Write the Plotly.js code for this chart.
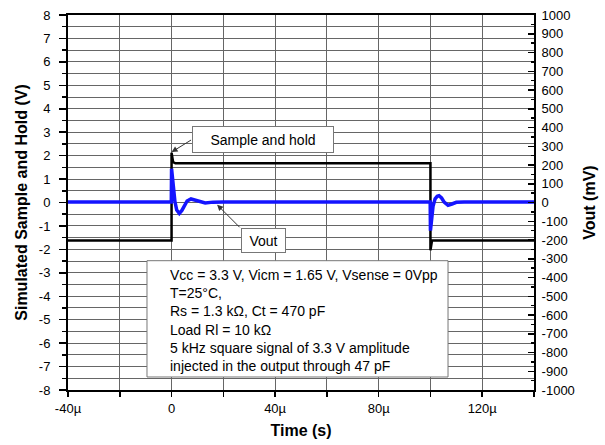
<!DOCTYPE html>
<html>
<head>
<meta charset="utf-8">
<script src="https://cdn.plot.ly/plotly-3.0.1.min.js"></script>
<style>html,body{margin:0;padding:0;background:#fff;}#chart{width:605px;height:445px;}</style>
</head>
<body>
<div id="chart"></div>
<script>
// ---- data (time in microseconds) ----
const shTimeUs = [-40, 0, 0, 0.6, 1.5, 100, 100, 100.6, 140];
const shVolts  = [-1.62, -1.62, 2.12, 1.72, 1.67, 1.67, -2.04, -1.62, -1.62];

const voutTimeUs = [-40, -30, -20, -10, -0.1, 0, 0.3, 0.8, 1.3, 2.0, 3.0, 4.0, 5.0, 6.0, 7.5, 9.0, 11, 13, 16, 20,
                    40, 60, 80, 99.9, 100, 100.4, 101, 101.8, 102.6, 103.3, 104.3, 105.3, 106.8, 108.3, 110, 113, 120, 140];
const voutMilliV = [3, 2, 3, 2, 3, 180, 130, 60, 5, -40, -58, -42, -12, 8, 19, 14, 4, -2, 2, 3,
                    3, 2, 3, 3, -150, -95, -20, 20, 33, 36, 24, 2, -15, -8, 1, 3, 2, 3];

const xTickVals = [-40, 0, 40, 80, 120];
const xTickText = ['-40µ', '0', '40µ', '80µ', '120µ'];

const yLeftTickVals = [-8, -7, -6, -5, -4, -3, -2, -1, 0, 1, 2, 3, 4, 5, 6, 7, 8];
const yLeftTickText = ['-8', '-7', '-6', '-5', '-4', '-3', '-2', '-1', '0', '1', '2', '3', '4', '5', '6', '7', '8'];

const yRightTickVals = [-1000, -900, -800, -700, -600, -500, -400, -300, -200, -100, 0,
                        100, 200, 300, 400, 500, 600, 700, 800, 900, 1000];
const yRightTickText = ['-1000', '-900', '-800', '-700', '-600', '-500', '-400', '-300', '-200', '-100', '0',
                        '100', '200', '300', '400', '500', '600', '700', '800', '900', '1000'];

const infoLines = [
  'Vcc = 3.3 V, Vicm = 1.65 V, Vsense = 0Vpp',
  'T=25°C,',
  'Rs = 1.3 kΩ, Ct = 470 pF',
  'Load Rl = 10 kΩ',
  '5 kHz square signal of 3.3 V amplitude',
  'injected in the output through 47 pF'
];

const us = v => v * 1e-6;

const traces = [
  {
    x: shTimeUs.map(us), y: shVolts, type: 'scatter', mode: 'lines',
    line: {color: '#000000', width: 2.5}, yaxis: 'y', hoverinfo: 'skip'
  },
  {
    x: voutTimeUs.map(us), y: voutMilliV, type: 'scatter', mode: 'lines',
    line: {color: '#1414ff', width: 3.5}, yaxis: 'y2', hoverinfo: 'skip'
  }
];

const fontFam = 'Liberation Sans, Arial, sans-serif';
const grid = '#666666';

const layout = {
  width: 605, height: 445,
  margin: {l: 68, r: 71, t: 15, b: 55},
  paper_bgcolor: '#ffffff', plot_bgcolor: '#ffffff',
  showlegend: false,
  font: {family: fontFam, size: 13, color: '#000'},
  xaxis: {
    range: [us(-40), us(140)],
    tickmode: 'array', tickvals: xTickVals.map(us), ticktext: xTickText,
    ticks: 'outside', ticklen: 5, tickwidth: 1.5, tickcolor: '#000',
    showgrid: true, gridcolor: grid, gridwidth: 1,
    minor: {tickmode: 'linear', tick0: 0, dtick: us(20), ticks: 'outside', ticklen: 5, tickwidth: 1.5, tickcolor: '#000', showgrid: true, gridcolor: grid, gridwidth: 1},
    zeroline: false,
    showline: true, linecolor: '#000', linewidth: 2, mirror: true,
    tickfont: {size: 13},
    title: {text: 'Time (s)', font: {size: 16, family: fontFam, weight: 'bold'}, standoff: 10}
  },
  yaxis: {
    range: [-8, 8],
    tickmode: 'array', tickvals: yLeftTickVals, ticktext: yLeftTickText,
    ticks: 'outside', ticklen: 7, tickwidth: 1.5, tickcolor: '#000',
    ticklabelstandoff: 6,
    showgrid: true, gridcolor: grid, gridwidth: 1,
    minor: {tickmode: 'linear', tick0: 0, dtick: 0.5, ticks: 'outside', ticklen: 4, tickwidth: 1.5, tickcolor: '#000', showgrid: true, gridcolor: grid, gridwidth: 1},
    zeroline: false,
    showline: true, linecolor: '#000', linewidth: 2,
    tickfont: {size: 13},
    title: {text: 'Simulated Sample and Hold (V)', font: {size: 16, family: fontFam, weight: 'bold'}, standoff: 7}
  },
  yaxis2: {
    overlaying: 'y', side: 'right',
    range: [-1000, 1000],
    tickmode: 'array', tickvals: yRightTickVals, ticktext: yRightTickText,
    ticks: 'inside', ticklen: 6, tickwidth: 1.5, tickcolor: '#000',
    ticklabelstandoff: 3,
    minor: {tickmode: 'linear', tick0: 0, dtick: 50, ticks: 'inside', ticklen: 3, tickwidth: 1.5, tickcolor: '#000', showgrid: false},
    showgrid: false, zeroline: false,
    showline: true, linecolor: '#000', linewidth: 2,
    tickfont: {size: 13},
    title: {text: 'Vout (mV)', font: {size: 16, family: fontFam, weight: 'bold'}, standoff: 10}
  },
  shapes: [
    {type: 'rect', xref: 'paper', yref: 'paper', x0: 0.1695, x1: 0.8155, y0: 0.0347, y1: 0.3448,
     fillcolor: '#ffffff', line: {color: '#777777', width: 1}, layer: 'above'}
  ],
  annotations: [
    // Sample and hold label + arrow
    {xref: 'paper', yref: 'paper', x: 0.4185, y: 0.7027, text: 'Sample and hold', showarrow: false,
     font: {size: 14, family: fontFam, color: '#000'}, bgcolor: '#ffffff', bordercolor: '#777777', borderwidth: 1,
     width: 138, height: 23, borderpad: 1},
    {xref: 'x', yref: 'y', x: us(0), y: 2.15, ax: 21, ay: -13, text: '', showarrow: true,
     arrowhead: 2, arrowsize: 1.2, arrowwidth: 1, arrowcolor: '#333'},
    // Vout label + arrow
    {xref: 'paper', yref: 'paper', x: 0.4185, y: 0.3987, text: 'Vout', showarrow: false,
     font: {size: 14, family: fontFam, color: '#000'}, bgcolor: '#ffffff', bordercolor: '#777777', borderwidth: 1,
     width: 41, height: 21, borderpad: 1},
    {xref: 'x', yref: 'y2', x: us(17.6), y: -12, ax: 24, ay: 24, text: '', showarrow: true,
     arrowhead: 2, arrowsize: 1.2, arrowwidth: 1, arrowcolor: '#333'},
    // Info text
    {xref: 'paper', yref: 'paper', x: 0.2167, y: 0.3307, xanchor: 'left', yanchor: 'top', align: 'left',
     text: infoLines.join('<br>'), showarrow: false, borderpad: 0,
     font: {size: 14, family: fontFam, color: '#000'}}
  ]
};

Plotly.newPlot('chart', traces, layout, {staticPlot: true, displayModeBar: false});
</script>
</body>
</html>
